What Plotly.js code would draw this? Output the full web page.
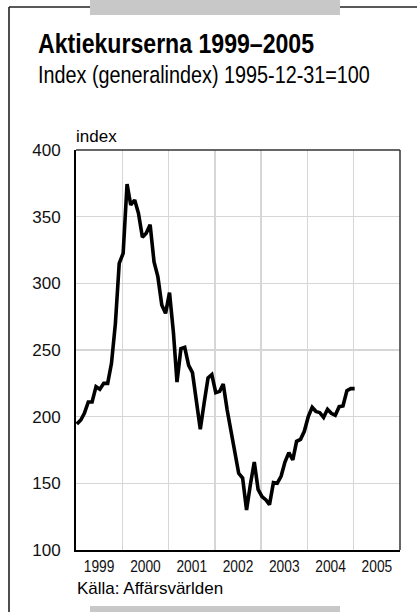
<!DOCTYPE html>
<html>
<head>
<meta charset="utf-8">
<script src="https://cdn.plot.ly/plotly-3.0.1.min.js"></script>
<style>
html,body{margin:0;padding:0;background:#fff;}
#chart{width:417px;height:612px;}
</style>
</head>
<body>
<div id="chart"></div>
<script>
// Monthly index values (Affärsvärlden generalindex, 1995-12-31 = 100)
const years = [1999, 2000, 2001, 2002, 2003, 2004, 2005];
const v1999 = [194.5, 197.5, 202.5, 211, 211, 222.5, 220.5, 225, 225, 240, 270, 315];
const v2000 = [322.5, 374.5, 358.75, 362.5, 352.5, 334.5, 337.5, 344, 316, 305, 283.75, 277.5];
const v2001 = [293, 263, 226, 251, 252, 238.5, 233, 212.5, 190.5, 210, 229, 231.5];
const v2002 = [218, 219, 224.5, 205, 189, 175, 157.5, 154, 130, 149, 166, 145.5];
const v2003 = [140, 137.5, 134, 150.5, 150, 155.5, 166, 173, 167.5, 181.5, 183, 189];
const v2004 = [200, 207, 204, 203, 199.5, 205.5, 202.5, 201, 207.5, 208, 219.5, 221];
const v2005 = [221];
const yearValues = [v1999, v2000, v2001, v2002, v2003, v2004, v2005];

const yTicks = [100, 150, 200, 250, 300, 350, 400];

const titleText = 'Aktiekurserna 1999–2005';
const subtitleText = 'Index (generalindex) 1995-12-31=100';
const yUnitText = 'index';
const sourceText = 'Källa: Affärsvärlden';

const dates = [], values = [];
years.forEach((y, yi) => {
  yearValues[yi].forEach((v, m) => {
    dates.push(y + '-' + String(m + 1).padStart(2, '0') + '-08');
    values.push(v);
  });
});

// plot area in pixels: left 76, right 400, top 150, bottom 550
const L = 76, R = 400, T = 150, B = 550, W = 417, H = 612;
const px = X => (X - L) / (R - L);
const py = Y => (B - Y) / (B - T);

const regular = '"Liberation Sans", Arial, Helvetica, sans-serif';

const trace = {
  x: dates, y: values, type: 'scatter', mode: 'lines',
  line: {color: '#000', width: 3.6, shape: 'linear'},
  hoverinfo: 'skip'
};

const layout = {
  width: W, height: H,
  margin: {l: L, r: W - R, t: T, b: H - B, pad: 0},
  paper_bgcolor: '#fff', plot_bgcolor: '#fff',
  showlegend: false,
  xaxis: {
    type: 'date',
    range: ['1999-01-01', '2006-01-01'],
    tick0: '1999-01-01', dtick: 'M12',
    ticklabelmode: 'period', tickformat: '%Y',
    showgrid: true, gridcolor: '#d6d6d6', gridwidth: 1.3,
    showline: true, linecolor: '#000', linewidth: 2,
    ticks: '', zeroline: false,
    tickfont: {family: regular, size: 17, color: '#111'},
    fixedrange: true
  },
  yaxis: {
    range: [100, 400],
    tickvals: yTicks, ticktext: yTicks.map(String),
    showgrid: true, gridcolor: '#d6d6d6', gridwidth: 1.3,
    showline: true, linecolor: '#000', linewidth: 2,
    ticks: '', zeroline: false,
    ticklabelstandoff: 10,
    tickfont: {family: regular, size: 17, color: '#111'},
    fixedrange: true
  },
  shapes: [
    {type: 'line', xref: 'paper', yref: 'paper', x0: 0, x1: 1, y0: 1, y1: 1, line: {color: '#333', width: 1.5}},
    {type: 'line', xref: 'paper', yref: 'paper', x0: 1, x1: 1, y0: 0, y1: 1, line: {color: '#333', width: 1.5}},
    {type: 'line', xref: 'paper', yref: 'paper', x0: px(9), x1: px(9), y0: py(7), y1: py(612), line: {color: '#222', width: 1.6}},
    {type: 'line', xref: 'paper', yref: 'paper', x0: px(9), x1: px(417), y0: py(7), y1: py(7), line: {color: '#222', width: 1.6}},
    {type: 'rect', xref: 'paper', yref: 'paper', x0: px(90), x1: px(340), y0: py(0), y1: py(15), fillcolor: '#c8c8c8', line: {width: 0}},
    {type: 'rect', xref: 'paper', yref: 'paper', x0: px(90), x1: px(340), y0: py(606), y1: py(612), fillcolor: '#c8c8c8', line: {width: 0}}
  ],
  annotations: [
    {text: '<b>' + titleText + '</b>', xref: 'paper', yref: 'paper', x: px(36), y: py(61),
     xanchor: 'left', yanchor: 'bottom', showarrow: false,
     font: {family: regular, size: 28, color: '#000'}},
    {text: subtitleText, xref: 'paper', yref: 'paper', x: px(36), y: py(90),
     xanchor: 'left', yanchor: 'bottom', showarrow: false,
     font: {family: regular, size: 24, color: '#000'}},
    {text: yUnitText, xref: 'paper', yref: 'paper', x: px(74), y: py(148),
     xanchor: 'left', yanchor: 'bottom', showarrow: false,
     font: {family: regular, size: 17, color: '#000'}},
    {text: sourceText, xref: 'paper', yref: 'paper', x: px(75), y: py(588),
     xanchor: 'left', yanchor: 'middle', showarrow: false,
     font: {family: regular, size: 17, color: '#000'}}
  ]
};

// horizontally condense a text element (imitates the narrow typeface of the original)
function squeeze(el, k, anchor) {
  const bb = el.getBBox();
  const cx = anchor === 'left' ? bb.x : bb.x + bb.width / 2;
  const t = el.getAttribute('transform') || '';
  el.setAttribute('transform', t + ' translate(' + cx + ',0) scale(' + k + ',1) translate(' + (-cx) + ',0)');
}

Plotly.newPlot('chart', [trace], layout, {staticPlot: true, displayModeBar: false}).then(gd => {
  gd.querySelectorAll('.annotation-text').forEach(el => {
    const s = el.textContent;
    if (s === titleText || s === subtitleText) squeeze(el, 0.825, 'left');
  });
  gd.querySelectorAll('.xtick text').forEach(el => squeeze(el, 0.81, 'center'));
});
</script>
</body>
</html>
